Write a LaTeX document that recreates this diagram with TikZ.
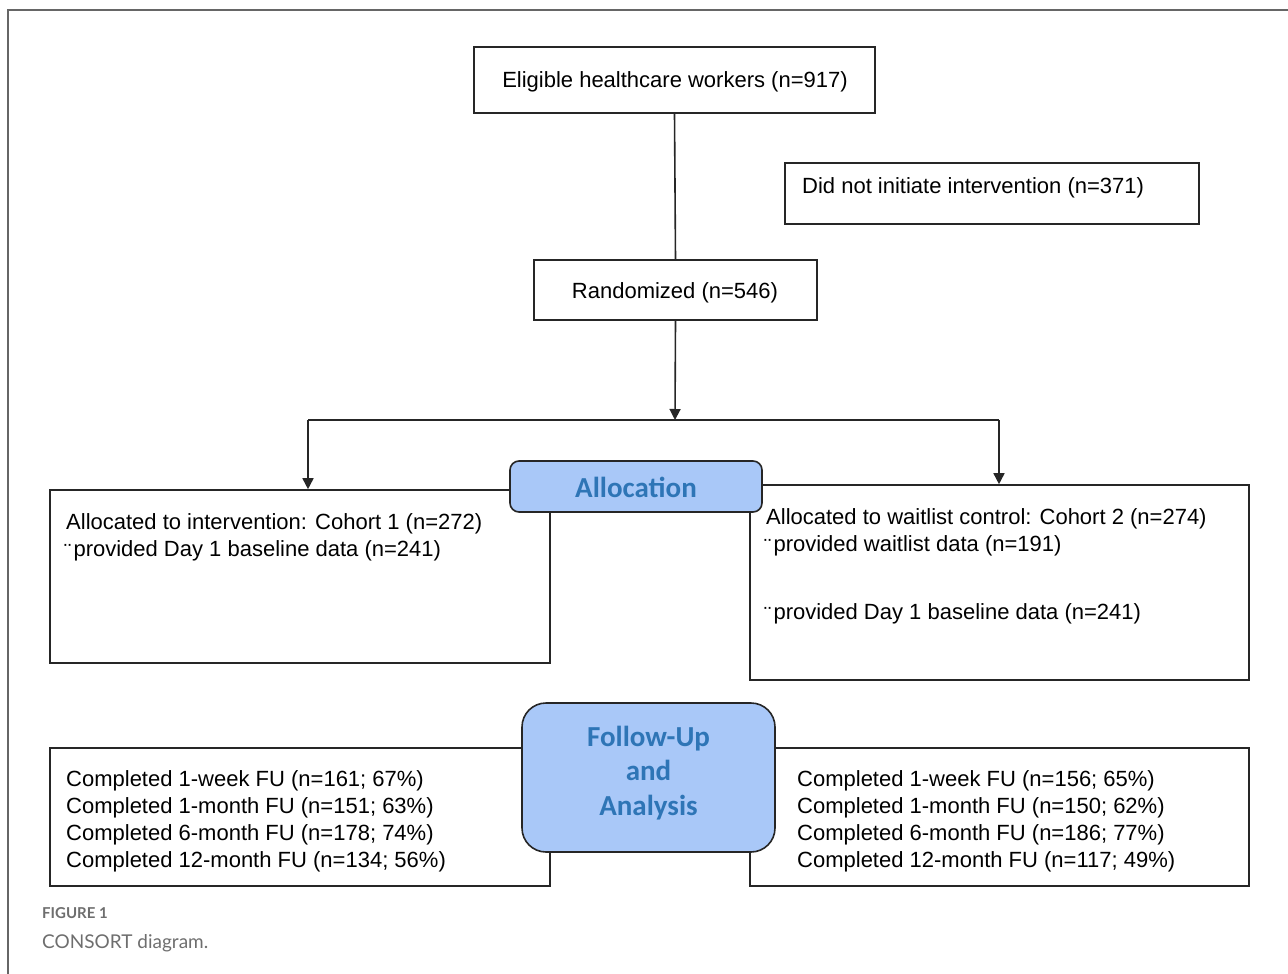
\documentclass[tikz,border=0pt]{standalone}
\usepackage{fontspec}
\setmainfont{Liberation Sans}
\newfontfamily\headfont{Carlito}
\newfontfamily\capfont{Lato}
\usetikzlibrary{arrows.meta}
\definecolor{boxblue}{HTML}{A9C8F8}
\definecolor{textblue}{HTML}{2E75B6}
\definecolor{capgray}{HTML}{6E6E6E}
\newcommand{\bul}{\raisebox{-3pt}{¨}\kern2pt}
\tikzset{
  box/.style={draw=black!85, line width=1.6pt, fill=white, inner sep=0pt},
  body/.style={font=\fontsize{22}{27}\selectfont, inner sep=0pt, anchor=base west},
  ctext/.style={font=\fontsize{22}{27}\selectfont, inner sep=0pt, anchor=base},
  head/.style={draw=black!85, line width=1.6pt, fill=boxblue, inner sep=0pt},
  headtext/.style={text=textblue, font=\headfont\bfseries\fontsize{29}{34.5}\selectfont, inner sep=0pt, anchor=base},
  conn/.style={line width=1.6pt, draw=black!85},
  arr/.style={conn, -{Triangle[length=11pt,width=11pt]}},
}
\begin{document}
\begin{tikzpicture}[x=1pt,y=-1pt]
\useasboundingbox (0,0) rectangle (1288,974);
% frame
\draw[black!60, line width=1.5pt] (8,974) -- (8,10) -- (1288,10);

% boxes
\node[box, minimum width=401, minimum height=66] (elig) at (674.5,80) {};
\node[ctext] (eligt) at (675,88) {Eligible healthcare workers (n=917)};

\node[box, minimum width=414, minimum height=61] (excl) at (992,193.5) {};
\node[body] (exclt) at (802,193) {Did not initiate intervention (n=371)};

\node[box, minimum width=283, minimum height=60] (rand) at (675.5,290) {};
\node[ctext] (randt) at (675,298) {Randomized (n=546)};

\node[box, minimum width=500, minimum height=173] (lalloc) at (300,576.5) {};
\node[body] (lalloc1) at (66,529) {Allocated to intervention: Cohort 1 (n=272)};
\node[body] (lalloc2) at (64,556) {\bul provided Day 1 baseline data (n=241)};

\node[box, minimum width=499, minimum height=195] (ralloc) at (999.5,582.5) {};
\node[body] (ralloc1) at (766,524) {Allocated to waitlist control: Cohort 2 (n=274)};
\node[body] (ralloc2) at (764,551) {\bul provided waitlist data (n=191)};
\node[body] (ralloc3) at (764,619) {\bul provided Day 1 baseline data (n=241)};

\node[head, rounded corners=9pt, minimum width=252, minimum height=51] (alloc) at (636,486.5) {};
\node[headtext] (allocT) at (636,497) {Allocation};

\node[box, minimum width=500, minimum height=138] (lfu) at (300,817) {};
\node[body] (lfu1) at (66,786) {Completed 1-week FU (n=161; 67\%)};
\node[body] (lfu2) at (66,813) {Completed 1-month FU (n=151; 63\%)};
\node[body] (lfu3) at (66,840) {Completed 6-month FU (n=178; 74\%)};
\node[body] (lfu4) at (66,867) {Completed 12-month FU (n=134; 56\%)};

\node[box, minimum width=499, minimum height=138] (rfu) at (999.5,817) {};
\node[body] (rfu1) at (797,786) {Completed 1-week FU (n=156; 65\%)};
\node[body] (rfu2) at (797,813) {Completed 1-month FU (n=150; 62\%)};
\node[body] (rfu3) at (797,840) {Completed 6-month FU (n=186; 77\%)};
\node[body] (rfu4) at (797,867) {Completed 12-month FU (n=117; 49\%)};

\node[head, rounded corners=24pt, minimum width=253, minimum height=149] (fu) at (648.5,777.5) {};
\node[headtext] (fu1) at (648.5,746) {Follow-Up};
\node[headtext] (fu2) at (648.5,780.5) {and};
\node[headtext] (fu3) at (648.5,815) {Analysis};

% connectors
\coordinate (split) at (675,420);
\coordinate (sl) at (308,420);
\coordinate (sr) at (999,420);
\draw[conn] (elig.south) -- (rand.north);
\draw[arr] (rand.south) -- (split);
\draw[conn] (sl) -- (sr);
\draw[arr] (sl) -- (sl |- lalloc.north);
\draw[arr] (sr) -- (sr |- ralloc.north);

% caption
\node[font=\capfont\bfseries\fontsize{15}{18}\selectfont, text=capgray, anchor=base west, inner sep=0pt] (fig) at (42,918) {FIGURE 1};
\node[font=\capfont\fontsize{19}{23}\selectfont, text=capgray, anchor=base west, inner sep=0pt] (cap) at (42,948) {CONSORT diagram.};
\end{tikzpicture}
\end{document}
